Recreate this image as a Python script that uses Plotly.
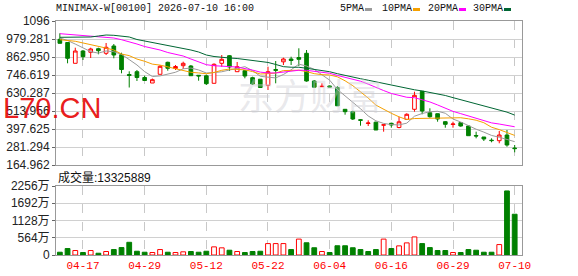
import plotly.graph_objects as go

# ---------------- data ----------------
dates = ["2026-04-14", "2026-04-15", "2026-04-16", "2026-04-17", "2026-04-20", "2026-04-21", "2026-04-22",
         "2026-04-23", "2026-04-24", "2026-04-27", "2026-04-28", "2026-04-29", "2026-04-30", "2026-05-04",
         "2026-05-05", "2026-05-06", "2026-05-07", "2026-05-08", "2026-05-11", "2026-05-12", "2026-05-13",
         "2026-05-14", "2026-05-15", "2026-05-18", "2026-05-19", "2026-05-20", "2026-05-21", "2026-05-22",
         "2026-05-26", "2026-05-27", "2026-05-28", "2026-05-29", "2026-06-01", "2026-06-02", "2026-06-03",
         "2026-06-04", "2026-06-05", "2026-06-08", "2026-06-09", "2026-06-10", "2026-06-11", "2026-06-12",
         "2026-06-15", "2026-06-16", "2026-06-17", "2026-06-18", "2026-06-22", "2026-06-23", "2026-06-24",
         "2026-06-25", "2026-06-26", "2026-06-29", "2026-06-30", "2026-07-02", "2026-07-03", "2026-07-06",
         "2026-07-07", "2026-07-08", "2026-07-09", "2026-07-10"]

opens = [977.7, 957, 822.5, 902, 893.6, 916.9, 887.2, 934.4, 878.1, 750.1, 768.2, 730.7, 695.1, 751.4, 829,
         788.9, 807, 805, 745, 741.7, 693.2, 822.5, 871.6, 768.2, 774.7, 729.4, 719.7, 680.3, 782.4, 832.2,
         850.3, 860, 887.2, 708.1, 671.2, 675.7, 666, 525.1, 509.6, 457.8, 433.3, 441.7, 422.3, 434.6, 407.4,
         460.4, 525.1, 641.5, 503.1, 496.6, 444.9, 426.8, 438.5, 417.1, 355.7, 346, 325.3, 322.1, 358.9, 274.9]
highs = [1016.5, 960, 923.4, 908.5, 923.4, 923.4, 953.8, 947.3, 891, 770.8, 779.2, 742.3, 724.2, 811.5, 833,
         811.5, 833, 811.5, 745, 750.1, 822.5, 876.2, 876.2, 831, 779.2, 735.9, 721, 800.5, 837.4, 858.7,
         865.2, 919.5, 908.5, 714.5, 693.2, 678.9, 675.7, 527.1, 516, 462.4, 454, 444.9, 424.9, 438.5, 477.2,
         499.2, 638.9, 643.4, 531.6, 497.9, 449.4, 444.9, 441, 423.6, 380.3, 346, 337.6, 384.8, 391.2, 294.3]
lows = [950.5, 822.5, 822.5, 843.8, 856.8, 880.7, 876.2, 854.8, 757.8, 666, 708.1, 710, 695.1, 751.4, 774.7,
        779.2, 785.6, 742.3, 710, 682.2, 693.2, 800.5, 772.7, 768.2, 725.5, 682.2, 664.7, 649.9, 693.2, 811.5,
        811.5, 805, 703.5, 667.3, 671.2, 667.3, 546.4, 490.2, 455.9, 419.1, 417.1, 391.2, 380.3, 406.2, 402.3,
        455.9, 509.6, 492.8, 470.8, 444.9, 406.2, 406.2, 412.6, 354.4, 337.6, 320.1, 311.7, 305.3, 283.3, 247.1]
closes = [951.8, 854.8, 902.0, 865.2, 915.0, 904.0, 926.0, 876.2, 782.4, 743.6, 730.7, 711.3, 716.5, 803.1,
          790.2, 801.8, 822.5, 742.3, 741.0, 690.6, 816.0, 848.4, 798.6, 800.5, 740.4, 688.7, 666.0, 768.2,
          777.2, 850.3, 840.6, 848.4, 708.1, 668.0, 673.8, 669.3, 547.7, 509.6, 462.4, 454.0, 436.5, 391.2,
          424.9, 423.6, 444.3, 492.8, 615.5, 514.1, 477.2, 462.4, 428.1, 430.0, 417.1, 354.4, 352.5, 333.1,
          322.8, 358.9, 294.3, 271.0]

# volume in 万 (10k shares)
volumes_wan = [91, 211, 146, 81, 146, 58, 114, 178, 243, 415, 123, 91, 81, 178, 91, 81, 104, 114, 91, 123,
               266, 234, 156, 114, 81, 114, 123, 373, 373, 373, 178, 520, 400, 237, 114, 81, 302, 302, 237, 178,
               114, 178, 520, 211, 299, 396, 591, 373, 243, 146, 146, 81, 81, 178, 156, 91, 91, 341, 2094, 1332.6]
last_volume = 13325889

ma5 = [986, 970, 947, 921, 897.8, 888.2, 902.4, 897.3, 880.7, 846.4, 811.8, 768.8, 736.9, 741.0, 750.4,
       764.6, 786.8, 792.0, 779.6, 759.6, 762.5, 767.7, 778.9, 790.8, 800.8, 775.3, 738.8, 732.8, 728.1, 750.1,
       780.5, 816.9, 804.9, 783.1, 747.8, 713.5, 653.4, 613.7, 572.6, 528.6, 482.0, 450.7, 433.8, 426.0, 424.1,
       435.4, 480.2, 498.1, 508.8, 512.4, 499.5, 462.4, 443.0, 418.4, 396.4, 377.4, 356.0, 344.3, 332.3, 316.0]
ma10 = [975, 970, 965, 954, 944, 931, 921, 908.5, 882.6, 872.1, 850.0, 835.6, 817.1, 810.9, 798.4, 788.2,
        777.8, 764.4, 760.3, 755.0, 763.5, 777.2, 785.5, 785.2, 780.2, 768.9, 753.3, 755.8, 759.5, 775.4, 777.9,
        777.9, 768.8, 755.6, 748.9, 747.0, 735.2, 709.3, 677.8, 638.2, 597.8, 552.1, 523.7, 499.3, 476.4, 458.7,
        465.5, 465.9, 467.4, 468.3, 467.4, 471.3, 470.5, 463.6, 454.4, 438.4, 409.2, 393.7, 375.4, 356.2]
ma20 = [1014, 1010, 1007.4, 1002, 997, 992.6, 990.6, 986, 975, 963.5, 947.3, 931, 921.4, 908.5, 892.3, 882.6,
        869.7, 850.3, 831, 813.6, 806.8, 806.4, 801.3, 798.0, 789.3, 778.5, 765.5, 760.1, 759.9, 765.2, 770.7,
        777.6, 777.1, 770.4, 764.6, 757.9, 744.2, 732.6, 718.6, 706.8, 687.8, 665.0, 646.3, 627.4, 612.6, 602.8,
        600.3, 587.6, 572.6, 553.2, 532.6, 511.7, 497.1, 481.4, 465.4, 448.6, 437.3, 429.8, 421.4, 412.2]
ma30 = [990.6, 990.6, 990.6, 990.6, 992.6, 999, 1005.5, 1003.5, 999, 992.6, 976.4, 966.7, 957, 947.3, 940.8,
        931.1, 921.4, 908.5, 895.6, 876.2, 866.5, 860, 856.8, 853.5, 847.1, 843.8, 838, 828, 815, 800.8, 797.1,
        796.9, 790.5, 783.9, 775.8, 768.0, 755.4, 743.2, 732.5, 722.9, 713.1, 702.4, 692.7, 680.0, 668.5, 658.2,
        651.3, 643.7, 634.9, 627.3, 614.4, 600.4, 587.7, 572.8, 559.9, 548.0, 536.6, 523.0, 506.9, 487.6]

tick_dates = ["2026-04-17", "2026-04-29", "2026-05-12", "2026-05-22", "2026-06-04", "2026-06-16",
              "2026-06-29", "2026-07-10"]
tick_labels = ["04-17", "04-29", "05-12", "05-22", "06-04", "06-16", "06-29", "07-10"]
price_ticks = [1096, 979.281, 862.950, 746.619, 630.287, 513.956, 397.625, 281.294, 164.962]
price_tick_text = ["1096", "979.281", "862.950", "746.619", "630.287", "513.956", "397.625", "281.294", "164.962"]
vol_ticks = [0, 564, 1128, 1692, 2256]
vol_tick_text = ["0", "564万", "1128万", "1692万", "2256万"]

ma_names = ["5PMA", "10PMA", "20PMA", "30PMA"]
ma_colors = ["#9a9a9a", "#f5a000", "#ff00ff", "#006633"]

RED = "#ff0000"
GREEN = "#008000"

# ---------------- figure ----------------
W, H = 578, 276
L, R, T, B = 56, 522, 21, 255


def px(x):
    return (x - L) / (R - L)


def py(y):
    return (B - y) / (B - T)


fig = go.Figure()

fig.add_trace(go.Candlestick(
    x=dates, open=opens, high=highs, low=lows, close=closes,
    increasing=dict(line=dict(color=RED, width=1), fillcolor="#ffffff"),
    decreasing=dict(line=dict(color=GREEN, width=1), fillcolor=GREEN),
    whiskerwidth=0, xaxis="x", yaxis="y", hoverinfo="skip"))

for name, vals, col in zip(ma_names, [ma5, ma10, ma20, ma30], ma_colors):
    fig.add_trace(go.Scatter(x=dates, y=vals, mode="lines", name=name,
                             line=dict(color=col, width=1), xaxis="x", yaxis="y", hoverinfo="skip"))

vol_up = [i > 0 and closes[i] >= closes[i - 1] for i in range(len(closes))]
fig.add_trace(go.Bar(
    x=dates, y=volumes_wan, width=0.62,
    marker=dict(color=["#ffffff" if u else GREEN for u in vol_up],
                line=dict(color=[RED if u else GREEN for u in vol_up], width=1)),
    xaxis="x2", yaxis="y2", hoverinfo="skip"))

common_x = dict(type="category", categoryorder="array", categoryarray=dates,
                range=[-0.5, 59.95], tickmode="array", tickvals=tick_dates,
                showgrid=True, gridcolor="#c8c8c8", griddash="dash", gridwidth=1,
                showline=True, linecolor="#999999", linewidth=1, mirror=True,
                zeroline=False, ticks="", fixedrange=True, automargin=False)

fig.update_layout(
    width=W, height=H,
    margin=dict(l=L, r=W - R, t=T, b=H - B, autoexpand=False),
    paper_bgcolor="white", plot_bgcolor="white",
    showlegend=False, boxgap=0.32,
    xaxis=dict(common_x, domain=[0, 1], anchor="y", showticklabels=False,
               rangeslider=dict(visible=False)),
    xaxis2=dict(common_x, domain=[0, 1], anchor="y2", showticklabels=True, ticktext=tick_labels,
                tickfont=dict(family="Liberation Mono, monospace", size=11, color=RED)),
    yaxis=dict(domain=[py(165), 1], range=[164.962, 1096], tickmode="array", tickvals=price_ticks,
               ticktext=price_tick_text, showgrid=True, gridcolor="#d0d0d0", gridwidth=1,
               showline=True, linecolor="#999999", mirror=True, zeroline=False, automargin=False,
               ticks="outside", ticklen=3, tickcolor="#666666",
               tickfont=dict(family="Liberation Sans, Arial, sans-serif", size=12, color="#222222")),
    yaxis2=dict(domain=[0, py(186)], range=[0, 2256], tickmode="array", tickvals=vol_ticks,
                ticktext=vol_tick_text, showgrid=True, gridcolor="#d0d0d0", gridwidth=1,
                showline=True, linecolor="#999999", mirror=True, zeroline=False, automargin=False,
                ticks="outside", ticklen=3, tickcolor="#666666",
                tickfont=dict(family="Liberation Sans, Arial, Noto Sans CJK SC, sans-serif", size=12,
                              color="#222222")),
)

ann = []
# watermark (faint)
ann.append(dict(text="东方财富", x=px(310), y=py(94), xref="paper", yref="paper",
                xanchor="center", yanchor="middle", showarrow=False,
                font=dict(family="Noto Sans CJK SC", size=36, color="rgba(205,205,212,0.45)")))
# red site watermark
ann.append(dict(text="L70.CN", x=px(52), y=py(108), xref="paper", yref="paper",
                xanchor="center", yanchor="middle", showarrow=False,
                font=dict(family="Liberation Sans, Arial", size=29, color="rgba(230,0,0,0.9)")))
# title
ann.append(dict(text="MINIMAX-W[00100] 2026-07-10 16:00", x=px(54), y=py(9), xref="paper", yref="paper",
                xanchor="left", yanchor="middle", showarrow=False,
                font=dict(family="Liberation Mono, monospace", size=10, color="#111111")))
# volume label
ann.append(dict(text="成交量:" + str(last_volume), x=px(56), y=py(177), xref="paper", yref="paper",
                xanchor="left", yanchor="middle", showarrow=False,
                font=dict(family="Liberation Sans, Arial, Noto Sans CJK SC", size=12, color="#111111")))

shapes = []
legend_x = [338, 380, 426, 471]
for name, col, lx in zip(ma_names, ma_colors, legend_x):
    ann.append(dict(text=name, x=px(lx), y=py(9), xref="paper", yref="paper",
                    xanchor="left", yanchor="middle", showarrow=False,
                    font=dict(family="Liberation Mono, monospace", size=10, color="#111111")))
    ex = lx + len(name) * 6 + 3
    shapes.append(dict(type="line", xref="paper", yref="paper", x0=px(ex), x1=px(ex + 7),
                       y0=py(9.5), y1=py(9.5), line=dict(color=col, width=3)))

fig.update_layout(annotations=ann, shapes=shapes)

fig.write_html("out.html")
